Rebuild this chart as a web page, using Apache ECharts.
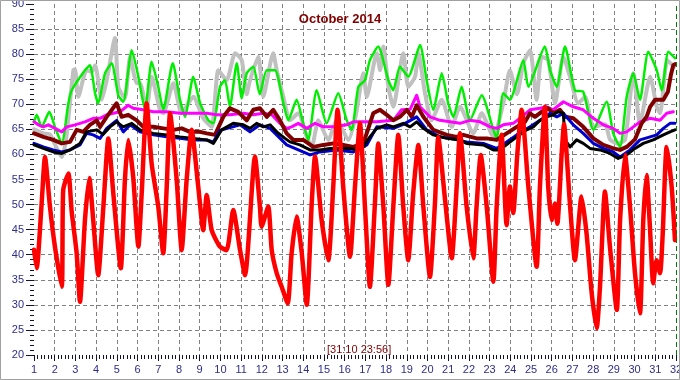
<!DOCTYPE html>
<html>
<head>
<meta charset="utf-8">
<script src="https://cdn.jsdelivr.net/npm/echarts@6/dist/echarts.min.js"></script>
<style>
html,body{margin:0;padding:0;background:#fff;}
#c{width:680px;height:380px;}
</style>
</head>
<body>
<div id="c"></div>
<script>
// ---- data (day of month, °F) ----
const titleText = "October 2014";
const stampText = "[31:10 23:56]";
const unitText = "°F";
const xMin = 1, xMax = 32, yMin = 20, yMax = 90;

const grayLine = [[1.00,65],[1.45,64.2],[1.77,64],[2.01,62],[2.34,59.5],[2.55,63],[2.90,76.8],[2.98,77],[3.14,71.5],[3.54,76.8],[3.79,76.5],[3.95,77.8],[4.27,70.9],[4.51,74.8],[4.91,83.2],[5.07,73.5],[5.39,71.2],[5.64,79.5],[5.96,74.2],[6.12,74.2],[6.44,69],[6.68,75.5],[7.08,68.9],[7.24,68.2],[7.73,74.2],[8.13,68.2],[8.69,71.5],[9.17,67.2],[9.58,65.5],[9.90,76.8],[10.30,74.8],[10.71,80.2],[11.03,78.8],[11.27,72],[11.43,74.8],[11.83,79.5],[12.07,71.5],[12.55,80.2],[12.72,76.8],[13.04,71.5],[13.36,66.8],[13.76,68.2],[14.17,63.5],[14.41,61.5],[14.73,66.8],[15.21,62.9],[15.62,66.8],[16.18,62.9],[16.55,68],[16.90,76.2],[17.07,71.5],[17.55,80.2],[17.71,76.8],[17.87,81.5],[18.11,73.5],[18.35,69.5],[18.83,80.2],[19.07,73.5],[19.40,75.5],[19.56,80.2],[19.88,72.2],[20.20,66.8],[20.69,70.9],[21.17,65.5],[21.57,69.5],[22.21,64.2],[22.62,68.2],[23.18,63.5],[23.66,70.2],[23.98,76.8],[24.32,72],[24.63,78.2],[24.95,80.8],[25.27,70.9],[25.51,79.5],[25.83,78.8],[26.16,70.2],[26.56,79.5],[26.88,75.5],[27.28,70.2],[27.61,71.5],[28.01,65.5],[28.57,66],[28.81,63],[29.14,62.2],[29.54,62.9],[29.94,76.2],[30.26,66.2],[30.75,75.5],[31.07,69.5],[31.23,68.2],[31.58,78.8],[31.90,77.5]];

const greenLine = [[1.00,66.5],[1.13,67.9],[1.37,65.5],[1.74,68.5],[2.01,65.5],[2.34,62.2],[2.66,70.2],[2.82,72.8],[3.46,76.8],[3.70,77.8],[3.95,72.2],[4.10,70.2],[4.43,76.2],[4.75,78.2],[5.07,71.8],[5.31,70.5],[5.72,80.8],[6.04,75.5],[6.36,68.9],[6.68,78.5],[7.00,73.5],[7.24,68.9],[7.70,78.2],[8.05,70.9],[8.29,67.5],[8.69,75.5],[9.02,70.2],[9.42,66.8],[9.66,66.2],[9.98,73.5],[10.22,74.8],[10.46,69.5],[10.79,78.2],[11.03,71.2],[11.27,76.2],[11.59,77.5],[11.90,72],[12.24,76.8],[12.64,76.8],[13.04,70.2],[13.28,66.8],[13.68,70.9],[14.00,66.2],[14.24,62.9],[14.65,72.8],[15.13,66.2],[15.69,72.2],[16.10,66.8],[16.34,64.9],[16.66,73.5],[16.98,74.8],[17.22,78.8],[17.62,81.5],[18.11,74.8],[18.35,72.8],[18.67,77.5],[19.07,75.5],[19.64,81.8],[19.96,74.8],[20.28,68.9],[20.69,76.2],[21.00,70.2],[21.25,67.5],[21.65,73.5],[22.05,66.8],[22.62,71.8],[23.18,64.9],[23.34,63.2],[23.66,72.2],[23.98,70.9],[24.63,78.8],[24.87,73.5],[25.67,81.5],[25.92,76.8],[26.24,73.5],[26.64,81.5],[27.12,72.8],[27.52,72.5],[28.01,64.9],[28.65,70.5],[28.97,64.2],[29.30,61.5],[29.62,71.5],[29.94,76.2],[30.26,70.9],[30.66,80.5],[31.07,76.8],[31.31,72.8],[31.63,80.5],[31.95,79.2]];

const magentaLine = [[1.00,66.5],[1.21,65.9],[1.45,65.5],[1.69,65.9],[2.01,65.2],[2.34,64.5],[2.58,65.5],[2.98,65.9],[3.46,66.5],[3.86,67.2],[4.19,67.2],[4.51,67.9],[4.83,68.2],[5.15,68.5],[5.55,69.8],[5.79,69.2],[6.28,68.9],[6.76,68.5],[7.41,68.5],[8.05,68.2],[8.69,68.2],[9.34,68.2],[9.82,67.9],[10.46,67.9],[11.11,68.2],[11.59,67.9],[12.07,68.2],[12.48,67.9],[12.88,66.2],[13.20,65.2],[13.44,65.5],[13.76,66.2],[14.17,65.2],[14.57,66.2],[14.97,65.5],[15.45,65.5],[16.10,65.9],[16.42,66.5],[17.07,66.5],[17.55,66.5],[18.35,66.8],[18.75,68.9],[19.16,69],[19.48,71.8],[19.64,69.5],[20.12,67.5],[20.60,66.8],[21.09,66.5],[21.57,66.2],[22.05,66.8],[22.54,66.5],[23.03,65.5],[23.34,65.2],[23.66,65.9],[24.14,66.2],[24.55,67.5],[24.95,68.9],[25.43,69.2],[25.75,69.5],[26.07,68.9],[26.56,70.5],[27.04,69.5],[27.52,68.9],[28.01,67.2],[28.49,65.9],[28.97,65.2],[29.30,64.2],[29.62,64.5],[29.94,65.5],[30.26,66.5],[30.75,67.2],[31.23,66.8],[31.55,68.2],[31.87,68.5]];

const maroonLine = [[1.00,64.2],[1.45,63.5],[1.93,62.9],[2.34,62.2],[2.74,62.5],[3.06,64.9],[3.38,64.5],[3.70,65.9],[4.03,66.8],[4.19,65.5],[4.51,67.5],[4.99,70.2],[5.23,67.5],[5.55,67.9],[5.96,66.8],[6.28,65.5],[6.76,65.5],[7.24,65.2],[7.73,64.9],[8.13,65.2],[8.53,64.5],[9.02,64.5],[9.34,64.2],[9.74,63.9],[10.14,67.5],[10.46,69.2],[10.86,68.5],[11.27,66.8],[11.59,68.9],[11.91,69.2],[12.24,67.5],[12.55,68.9],[12.88,66.8],[13.20,64.2],[13.52,62.9],[14.00,62.9],[14.49,61.5],[14.97,61.9],[15.45,62.2],[15.93,61.9],[16.42,61.5],[16.90,62.2],[17.13,65],[17.38,68.2],[17.71,68.9],[18.03,67.9],[18.35,66.8],[18.67,67.5],[19.00,68.9],[19.24,67.5],[19.48,69.8],[19.80,67.5],[20.28,64.9],[20.93,63.9],[21.41,63.5],[21.73,63.9],[22.37,63.2],[22.86,63.2],[23.34,62.9],[23.82,64.2],[24.31,65.5],[24.71,66.5],[24.95,68.2],[25.19,67.5],[25.51,68.5],[25.83,69.2],[26.07,68.2],[26.40,68.9],[26.64,67.5],[27.04,67.2],[27.52,65.5],[28.01,63.2],[28.49,61.9],[28.97,61.2],[29.30,60.9],[29.62,61.5],[30.02,63],[30.34,66.2],[30.58,67.5],[30.75,69.5],[30.99,70.9],[31.39,70.9],[31.61,72.5],[31.76,76],[31.87,77.8],[31.95,78]];

const blueLine = [[1.00,62.2],[1.45,61.5],[1.93,60.9],[2.34,60.5],[2.74,60.9],[3.22,61.9],[3.54,64.2],[3.86,63.9],[4.19,63.2],[4.51,65.2],[4.99,66.8],[5.31,64.5],[5.64,65.9],[6.12,64.5],[6.76,63.9],[7.41,63.5],[8.05,63.2],[8.69,62.9],[9.34,62.9],[9.66,62.5],[9.98,64.8],[10.95,65.9],[11.43,64.5],[11.91,65.9],[12.40,65.2],[13.20,61.9],[14.33,59.9],[14.81,60.5],[15.62,60.9],[16.42,60.5],[17.07,61.9],[17.55,65.5],[18.35,65.2],[18.83,66],[19.48,67.5],[19.96,64.9],[20.60,63.5],[21.09,63.2],[21.89,62.5],[22.70,62.2],[23.34,61.2],[23.82,62.5],[24.31,63.9],[24.95,65.5],[25.59,67.2],[25.92,68.2],[26.24,67.5],[26.56,68.2],[27.04,65.9],[27.52,64.2],[28.01,62.2],[28.49,61.2],[28.97,60.5],[29.30,59.5],[29.78,60.9],[30.26,62.9],[30.75,63.5],[31.07,63.9],[31.39,65.2],[31.71,66.2],[31.95,66.2]];

const blackLine = [[1.00,61.9],[1.45,61.2],[1.93,60.5],[2.34,60.2],[2.74,60.9],[3.22,62.2],[3.54,64.5],[4.03,64.9],[4.33,64],[4.67,65.5],[4.99,66.5],[5.31,65.5],[5.72,66.2],[6.12,64.9],[6.76,64.2],[7.41,63.9],[8.05,63.5],[8.69,63.2],[9.34,62.9],[9.66,62.2],[10.06,64.9],[10.62,66.2],[11.11,65.9],[11.43,65.2],[11.75,66.2],[12.07,65.5],[12.40,65.9],[12.72,64.5],[13.12,63.2],[13.36,62.5],[13.84,61.9],[14.33,60.9],[14.81,60.9],[15.29,61.2],[15.78,61.2],[16.26,61.2],[16.58,60.9],[16.90,61.5],[17.22,63.5],[17.55,65.2],[18.03,65.9],[18.35,65.5],[18.83,66.2],[19.16,65.5],[19.48,66.5],[19.80,65.2],[20.28,63.9],[20.93,63.2],[21.57,62.9],[21.89,62.2],[22.70,61.9],[23.18,60.9],[23.50,60.9],[23.90,62.2],[24.31,63.5],[24.79,64.9],[25.11,65.5],[25.43,66.8],[25.75,67.5],[26.07,67.9],[26.31,68.5],[26.56,68.2],[26.64,62.9],[26.88,61.5],[27.20,62.9],[27.52,62.2],[27.85,61.2],[28.33,60.9],[28.81,60.2],[29.21,59.2],[29.62,59.9],[30.02,61.2],[30.42,62.2],[30.90,62.9],[31.39,63.9],[31.71,64.5],[31.95,64.9]];

const redLine = [[1.00,41],[1.13,37.3],[1.37,50.3],[1.53,59.5],[1.77,49.6],[2.01,41.6],[2.34,33.6],[2.41,52.9],[2.66,56.2],[2.82,48.6],[3.06,40.3],[3.22,30.6],[3.46,46.9],[3.67,55.3],[3.86,46.9],[4.10,35.9],[4.35,49.6],[4.59,63.2],[4.83,52.2],[5.19,37.3],[5.39,54.9],[5.55,62.9],[5.79,55.5],[6.04,41.6],[6.20,52.2],[6.44,70.2],[6.68,58.2],[7.00,49.6],[7.24,40.3],[7.41,53.6],[7.57,68.2],[7.89,54.9],[8.13,40.9],[8.37,54.9],[8.61,64.9],[8.93,53.6],[9.17,44.9],[9.34,51.9],[9.58,44.9],[9.98,41.6],[10.30,40.9],[10.62,48.9],[10.95,40.9],[11.19,35.9],[11.67,59.6],[11.91,49.6],[11.99,45.6],[12.31,49.6],[12.48,40.9],[12.72,36.3],[12.96,33.6],[13.25,30.3],[13.44,40.3],[13.68,47.6],[13.93,40.3],[14.17,30.0],[14.41,50.2],[14.57,59.6],[14.89,46.9],[15.21,38.9],[15.45,53.6],[15.66,68.9],[15.93,53.6],[16.26,39.6],[16.50,53.6],[16.74,66.2],[16.98,49.6],[17.22,33.6],[17.47,50.9],[17.62,62.2],[17.87,49.6],[18.11,34.0],[18.35,49.6],[18.59,63.9],[18.83,49.6],[19.07,38.9],[19.31,52.2],[19.56,61.9],[19.80,49.6],[20.12,35.6],[20.36,50.2],[20.52,63.5],[20.85,50.9],[21.17,39.3],[21.41,53.6],[21.57,64.2],[21.89,49.6],[22.21,39.3],[22.37,49.6],[22.57,59.9],[22.86,49.6],[23.18,34.6],[23.34,49.6],[23.58,63.9],[23.82,45.9],[23.98,53.6],[24.14,48.3],[24.34,60.2],[24.55,68.9],[24.87,53.6],[25.27,37.6],[25.43,53.6],[25.67,69.5],[25.83,53.6],[26.00,46.9],[26.16,50.2],[26.27,46.2],[26.48,60.2],[26.59,66],[26.88,50],[27.12,38.9],[27.44,51.6],[27.68,44.3],[27.93,32.3],[28.17,25.3],[28.33,33.6],[28.57,52.6],[28.81,41.6],[29.14,29.0],[29.30,46.9],[29.54,59.9],[29.78,49.6],[30.02,36.3],[30.26,28.3],[30.42,46.9],[30.58,55.9],[30.74,45.6],[30.90,34.3],[31.06,38.9],[31.23,36.3],[31.36,44.3],[31.55,61.5],[31.79,53.6],[31.95,42.9]];

const FONT = "'Liberation Sans', Arial, sans-serif";
const chart = echarts.init(document.getElementById('c'), null, {renderer:'canvas'});

function line(name, data, color, width, extra) {
  return Object.assign({
    name: name, type: 'line', data: data, showSymbol: false, symbol: 'none',
    lineStyle: {color: color, width: width, join: 'round', cap: 'round'},
    itemStyle: {color: color}, silent: true, animation: false
  }, extra || {});
}

const tickColor = '#111133';
chart.setOption({
  animation: false,
  backgroundColor: '#ffffff',
  title: {
    text: titleText, left: 'center', top: 8,
    textStyle: {color: '#800000', fontSize: 13, fontWeight: 'bold', fontFamily: FONT}
  },
  grid: {left: 34, right: 4, top: 4, bottom: 25, containLabel: false, outerBoundsMode: 'none'},
  xAxis: {
    type: 'value', min: xMin, max: xMax, interval: 1,
    axisLine: {show: true, onZero: false, lineStyle: {color: 'rgba(0,0,0,0)'}},
    axisTick: {show: true, inside: false, length: 6, lineStyle: {color: tickColor, width: 1}},
    minorTick: {show: true, splitNumber: 6, length: 4, lineStyle: {color: tickColor, width: 1}},
    axisLabel: {color: '#2e2e8a', fontSize: 11, fontFamily: FONT, margin: 9, showMinLabel: true, showMaxLabel: true},
    splitLine: {show: true, showMinLine: false, showMaxLine: false, lineStyle: {color: '#808080', type: [4, 3], width: 1}}
  },
  yAxis: {
    type: 'value', min: yMin, max: yMax, interval: 5,
    name: unitText, nameLocation: 'middle', nameRotate: 90, nameGap: 23,
    nameTextStyle: {color: '#800000', fontSize: 11, fontFamily: FONT},
    axisLine: {show: true, onZero: false, lineStyle: {color: 'rgba(0,0,0,0)'}},
    axisTick: {show: true, inside: false, length: 8, lineStyle: {color: tickColor, width: 1}},
    minorTick: {show: true, splitNumber: 5, length: 4, lineStyle: {color: tickColor, width: 1}},
    axisLabel: {color: '#2e2e8a', fontSize: 11, fontFamily: FONT, margin: 10},
    splitLine: {show: true, showMinLine: false, showMaxLine: false, lineStyle: {color: '#808080', type: [4, 3], width: 1}}
  },
  series: [
    line('gray', grayLine, '#c0c0c0', 4, {smooth: 0.2}),
    line('green', greenLine, '#00ee00', 2.5, {smooth: 0.2}),
    line('magenta', magentaLine, '#ff00ff', 3),
    line('maroon', maroonLine, '#800000', 4),
    line('blue', blueLine, '#0000cc', 3),
    line('black', blackLine, '#000000', 3),
    line('red', redLine, '#ff0000', 4.5, {
      smooth: 0.2,
      markLine: {
        silent: true, symbol: ['none', 'none'], animation: false,
        label: {show: false},
        lineStyle: {color: '#008000', type: [5, 3], width: 1},
        data: [{xAxis: xMax}]
      }
    })
  ],
  graphic: [
    {type: 'rect', shape: {x: 0.5, y: 0.5, width: 679, height: 379}, style: {fill: 'none', stroke: '#a0a0a0', lineWidth: 1}, z: 100},
    {type: 'text', left: 327, top: 344, style: {text: stampText, fill: '#800000', font: '11px ' + FONT}, z: 100}
  ]
});
</script>
</body>
</html>
